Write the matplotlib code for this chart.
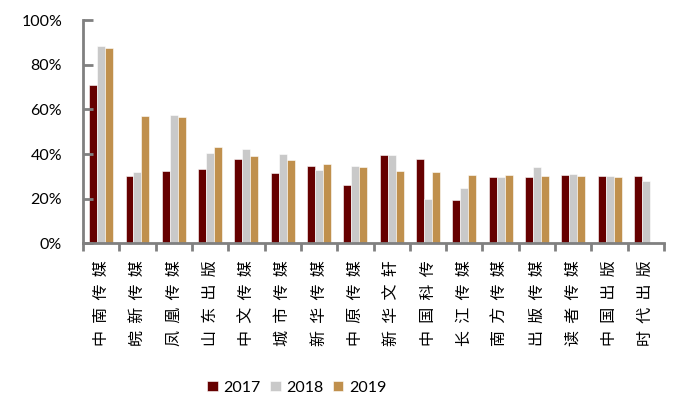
import matplotlib
matplotlib.use("Agg")
import matplotlib.pyplot as plt
import numpy as np
from matplotlib.ticker import FuncFormatter

plt.rcParams['font.family'] = ['Lato', 'Noto Sans CJK SC', 'DejaVu Sans']

gongsi = ['中南传媒', '皖新传媒', '凤凰传媒', '山东出版', '中文传媒', '城市传媒',
          '新华传媒', '中原传媒', '新华文轩', '中国科传', '长江传媒', '南方传媒',
          '出版传媒', '读者传媒', '中国出版', '时代出版']

# valores (%)
v2017 = [71.1, 30.2, 32.4, 33.5, 37.7, 31.7, 34.8, 26.1, 39.7, 37.7, 19.6, 29.9,
         29.9, 30.5, 30.2, 30.2]
v2018 = [88.5, 32.0, 57.5, 40.6, 42.3, 40.0, 32.9, 34.8, 39.5, 19.9, 24.7, 29.9,
         34.2, 31.1, 30.2, 27.8]
v2019 = [87.3, 57.1, 56.8, 43.2, 39.3, 37.4, 35.4, 34.4, 32.3, 32.0, 30.8, 30.5,
         30.2, 30.2, 29.9, np.nan]

anos = ['2017', '2018', '2019']
cores = ['#660000', '#C9C9C9', '#C0904D']

fig = plt.figure(figsize=(7, 4.09), dpi=100)
ax = fig.add_axes([0.1186, 0.405, 0.83, 0.546])

x = np.arange(len(gongsi))
w = 0.22
for i, vals in enumerate([v2017, v2018, v2019]):
    ax.bar(x + (i - 1) * w, vals, width=w, color=cores[i], label=anos[i],
           edgecolor='white', linewidth=0.4)

ax.set_xlim(-0.5, len(gongsi) - 0.5)
ax.set_ylim(0, 100)
ax.set_yticks([0, 20, 40, 60, 80, 100])
ax.yaxis.set_major_formatter(FuncFormatter(lambda v, p: '%d%%' % v))

# rótulos com espaço entre os caracteres
rotulos = ['  '.join(list(g)) for g in gongsi]
ax.set_xticks(np.arange(len(gongsi) + 1) - 0.5)
ax.set_xticklabels([])
ax.set_xticks(x, minor=True)
ax.set_xticklabels(rotulos, minor=True, rotation=90, fontsize=11.5,
                   family=['Noto Sans CJK SC', 'DejaVu Sans'])
ax.tick_params(axis='x', which='minor', length=0, pad=12)
ax.tick_params(axis='x', which='major', length=6, width=2, color='#808080')
ax.tick_params(axis='y', direction='in', length=7, width=2, color='#808080',
               labelsize=11.5, pad=15)

for s in ['top', 'right']:
    ax.spines[s].set_visible(False)
for s in ['left', 'bottom']:
    ax.spines[s].set_linewidth(2)
    ax.spines[s].set_color('#808080')

fig.legend(loc='lower center', bbox_to_anchor=(0.424, 0.0), ncol=3, frameon=False,
           fontsize=11.5, handlelength=0.65, handleheight=0.65, handletextpad=0.35,
           columnspacing=0.6)

fig.savefig('out.png', dpi=100)
